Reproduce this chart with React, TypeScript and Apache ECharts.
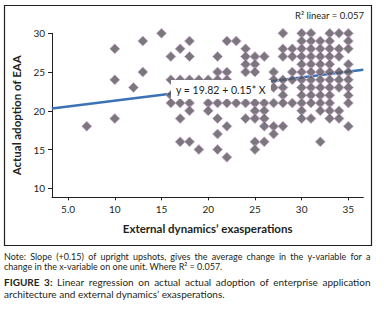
import React, { useEffect, useRef } from "react";
import * as echarts from "echarts";

// ---- data ----
const columnX = [7, 10, 12, 13, 15, 16, 17, 18, 19, 20, 21, 22, 23, 24, 25, 26, 27, 28, 29, 30, 31, 32, 33, 34, 35];
const columnY = [
  [18],
  [28, 24, 19],
  [23],
  [29, 25],
  [30],
  [27, 24, 22, 21],
  [28, 24, 21, 19, 16],
  [29, 27, 24, 21, 20, 16],
  [24, 15],
  [24, 21, 20],
  [27, 25, 24, 21, 19, 17, 15],
  [29, 25, 24, 21, 18, 14],
  [29, 21],
  [28, 27, 26, 25, 21, 19],
  [27, 26, 25, 21, 20, 19, 16, 15],
  [27, 21, 20, 19, 18, 16],
  [25, 24, 23, 21, 18, 17],
  [30, 28, 27, 24, 23, 22, 21, 18],
  [28, 27, 25, 24, 21],
  [30, 29, 28, 27, 26, 25, 24, 23, 22, 21, 20, 19],
  [30, 29, 28, 27, 26, 25, 24, 23, 22, 21, 19],
  [29, 28, 27, 26, 25, 24, 23, 22, 21, 20, 16],
  [30, 29, 28, 27, 26, 25, 24, 23, 22, 21, 20, 19],
  [30, 28, 27, 25, 24, 23, 20, 19],
  [30, 29, 28, 26, 25, 24, 23, 22, 21, 18],
];
const xTicks = [5, 10, 15, 20, 25, 30, 35];
const yTicks = [10, 15, 20, 25, 30];
const xRange = [3.28, 36.6];
const yRange = [8.84, 30];
const intercept = 19.82;
const slope = 0.15;

const xTitle = "External dynamics’ exasperations";
const yTitle = "Actual adoption of EAA";
const equationText = "y = 19.82 + 0.15* X";
const r2Text = "R² linear = 0.057";
const noteLine1 = "Note: Slope (+0.15) of upright upshots, gives the average change in the y-variable for a";
const noteLine2 = "change in the x-variable on one unit. Where R² = 0.057.";
const captionLabel = "FIGURE 3:";
const captionLine1 = "Linear regression on actual actual adoption of enterprise application";
const captionLine2 = "architecture and external dynamics’ exasperations.";

const FONT = "Lato, 'Open Sans', sans-serif";
const INK = "#231f20";

let measureCtx: CanvasRenderingContext2D | null = null;
function measure(text: string, size: number, family: string, weight = "normal") {
  if (!measureCtx) measureCtx = document.createElement("canvas").getContext("2d");
  measureCtx!.font = `${weight} ${size}px ${family}`;
  return measureCtx!.measureText(text).width;
}
function fitSize(text: string, target: number, family: string, weight = "normal") {
  return (10 * target) / measure(text, 10, family, weight);
}

type Word = { text: string; size: number; family: string; weight: string };

function justified(words: Word[], x0: number, x1: number, y: number) {
  const widths = words.map((w) => measure(w.text, w.size, w.family, w.weight));
  const total = widths.reduce((a, b) => a + b, 0);
  const gap = (x1 - x0 - total) / (words.length - 1);
  let x = x0;
  return words.map((w, i) => {
    const el = {
      type: "text",
      x,
      y,
      z: 100,
      style: {
        text: w.text,
        fontSize: w.size,
        fontFamily: w.family,
        fontWeight: w.weight,
        fill: INK,
        verticalAlign: "middle",
        align: "left",
        lineHeight: w.size * 1.05,
      },
    };
    x += widths[i] + gap;
    return el;
  });
}

function plainText(text: string, x: number, y: number, size: number, family: string, weight = "normal") {
  return {
    type: "text",
    x,
    y,
    z: 100,
    style: {
      text,
      fontSize: size,
      fontFamily: family,
      fontWeight: weight,
      fill: INK,
      verticalAlign: "middle",
      align: "left",
      lineHeight: size * 1.05,
    },
  };
}

export default function App() {
  const ref = useRef<HTMLDivElement>(null);

  useEffect(() => {
    document.body.style.margin = "0";
    const chart = echarts.init(ref.current!, null, { renderer: "svg" });

    const points: number[][] = [];
    columnX.forEach((x, i) => columnY[i].forEach((y) => points.push([x, y])));
    const fitLine = [
      [xRange[0], intercept + slope * xRange[0]],
      [xRange[1], intercept + slope * xRange[1]],
    ];

    const noteSize = Math.min(9, fitSize(noteLine2, 222, FONT));
    const capSize = Math.min(10, fitSize(captionLine2, 236, FONT));
    const noteWords: Word[] = noteLine1.split(" ").map((t) => ({ text: t, size: noteSize, family: FONT, weight: "normal" }));
    const capWords: Word[] = [
      ...captionLabel.split(" ").map((t) => ({ text: t, size: capSize, family: FONT, weight: "bold" })),
      ...captionLine1.split(" ").map((t) => ({ text: t, size: capSize, family: FONT, weight: "normal" })),
    ];

    const graphic: any[] = [
      {
        type: "rect",
        z: 100,
        shape: { x: 4.5, y: 5.5, width: 367, height: 240 },
        style: { fill: "none", stroke: INK, lineWidth: 1.2 },
      },
      {
        type: "text",
        x: 364,
        y: 15,
        z: 100,
        style: { text: r2Text, fontSize: 9.5, fontFamily: FONT, fill: INK, align: "right", verticalAlign: "middle" },
      },
      {
        type: "text",
        x: 171,
        y: 80,
        z: 100,
        style: {
          text: equationText,
          fontSize: 10.5,
          fontFamily: FONT,
          fill: INK,
          align: "left",
          verticalAlign: "top",
          backgroundColor: "#ffffff",
          padding: [4, 5, 4, 5],
        },
      },
      ...justified(noteWords, 4, 370.5, 256.8),
      plainText(noteLine2, 4, 266.3, noteSize, FONT),
      ...justified(capWords, 4, 370.5, 282),
      plainText(captionLine2, 4, 294, capSize, FONT),
    ];

    chart.setOption({
      animation: false,
      grid: { left: 52, right: 20.7, top: 33.3, bottom: 112.7, containLabel: false },
      xAxis: {
        type: "value",
        min: xRange[0],
        max: xRange[1],
        name: xTitle,
        nameLocation: "middle",
        nameGap: 25,
        nameTextStyle: { fontSize: 11.5, fontWeight: "bold", fontFamily: FONT, color: INK },
        axisLine: { show: true, lineStyle: { color: INK, width: 1 } },
        axisTick: { show: true, customValues: xTicks, length: 3, lineStyle: { color: INK } },
        axisLabel: {
          customValues: xTicks,
          formatter: (v: number) => (v === 5 ? "5.0" : String(v)),
          fontSize: 10,
          fontFamily: FONT,
          color: INK,
          margin: 7,
        },
        splitLine: { show: false },
      },
      yAxis: {
        type: "value",
        min: yRange[0],
        max: yRange[1],
        name: yTitle,
        nameLocation: "middle",
        nameGap: 27,
        nameRotate: 90,
        nameTextStyle: { fontSize: 11.5, fontWeight: "bold", fontFamily: FONT, color: INK },
        axisLine: { show: true, lineStyle: { color: INK, width: 1 } },
        axisTick: { show: true, customValues: yTicks, length: 4, lineStyle: { color: INK } },
        axisLabel: { customValues: yTicks, fontSize: 10, fontFamily: FONT, color: INK, margin: 7 },
        splitLine: { show: false },
      },
      series: [
        {
          type: "line",
          data: fitLine,
          symbol: "none",
          lineStyle: { color: "#3b72b5", width: 2.5 },
          silent: true,
          z: 1,
        },
        {
          type: "scatter",
          data: points,
          symbol: "diamond",
          symbolSize: 10,
          clip: false,
          itemStyle: { color: "#59565b", borderColor: "#d2abd6", borderWidth: 1 },
          z: 2,
        },
      ],
      graphic,
    });

    return () => chart.dispose();
  }, []);

  return <div ref={ref} style={{ width: 384, height: 310 }} />;
}
